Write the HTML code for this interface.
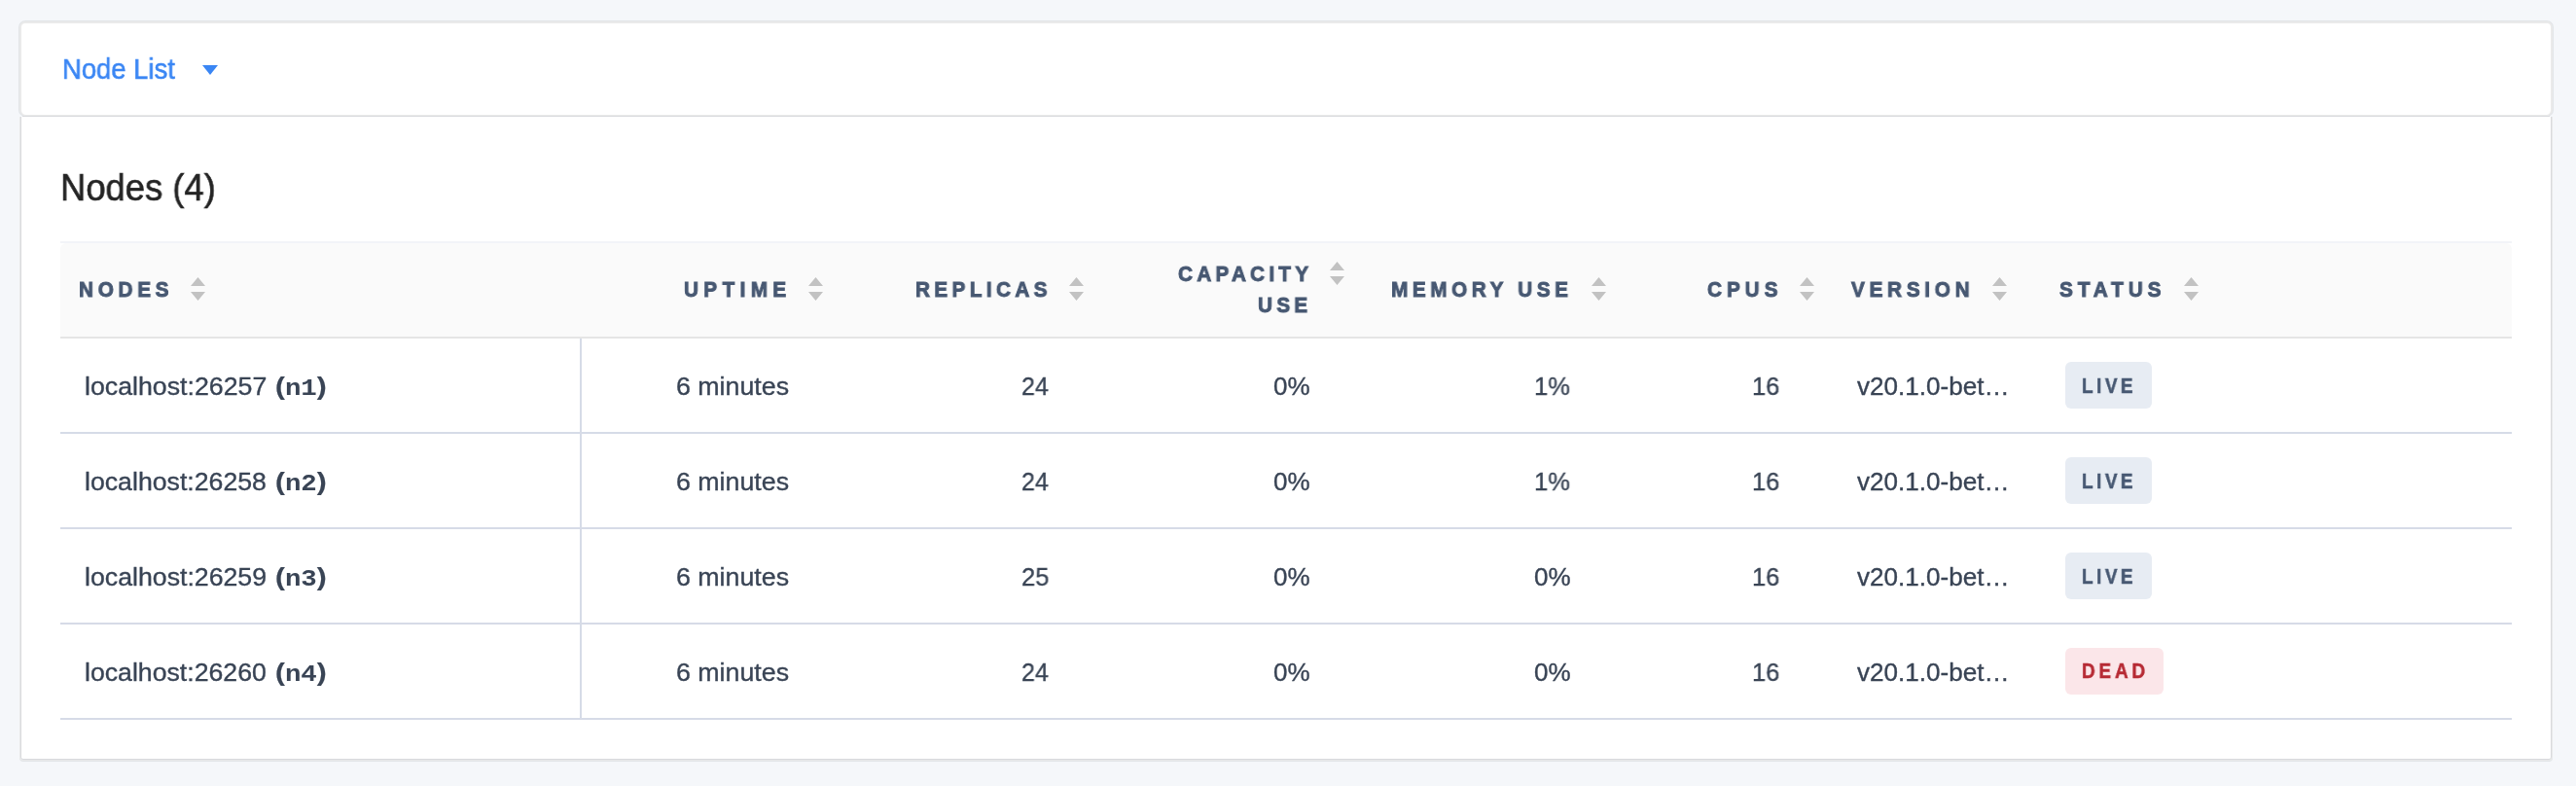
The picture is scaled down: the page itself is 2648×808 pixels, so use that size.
<!DOCTYPE html>
<html><head><meta charset="utf-8"><title>Node List</title>
<style>
html,body{margin:0;padding:0}
body{width:2648px;height:808px;overflow:hidden;background:#f5f7fa;position:relative;font-family:"Liberation Sans",sans-serif}
.card{position:absolute;box-sizing:border-box;background:#fff}
.hdr{left:20px;top:22px;width:2604px;height:97px;border:2px solid #eaeaea;border-bottom-width:1px;border-radius:6px;box-shadow:0 0 0 1px #e2e5e8}
.hdrline{position:absolute;left:23px;top:119px;width:2598px;height:1px;background:#d9dadd}
.body{left:20px;top:120px;width:2604px;height:662px;border:1px solid #e8e9e9;border-top:0;border-radius:0 0 4px 4px;box-shadow:inset 1px 0 0 #d9dadd,inset -1px 0 0 #d9dadd,inset 0 -1px 0 #d8d9dd,0 1px 0 #e2e5e8}
.thtop{position:absolute;left:62px;top:248px;width:2520px;height:2px;background:#f2f4f8}
.thbg{position:absolute;left:62px;top:250px;width:2520px;height:96px;background:#fafafa;border-radius:6px 6px 0 0}
.thbottom{position:absolute;left:62px;top:346px;width:2520px;height:2px;background:#e5e5e5}
.rb{position:absolute;left:62px;width:2520px;height:2px;background:#d6dbe7}
.vd{position:absolute;left:596px;top:348px;width:2px;height:392px;background:#d6dbe7}
.s{position:absolute;display:block}
.badge{position:absolute;height:48px;border-radius:6px}
.t{position:absolute;white-space:nowrap;transform-origin:0 0;will-change:transform;font-family:"Liberation Sans",sans-serif}
.t b{font-family:"Liberation Mono",monospace;font-weight:bold;font-size:24px;-webkit-text-stroke:0}
</style></head><body>
<div class="card hdr"></div>
<div class="hdrline"></div>
<div class="card body"></div>
<div class="thtop"></div><div class="thbg"></div><div class="thbottom"></div>
<div class="rb" style="top:444px"></div>
<div class="rb" style="top:542px"></div>
<div class="rb" style="top:640px"></div>
<div class="rb" style="top:738px"></div>
<div class="vd"></div>
<svg class="s" style="left:208px;top:67px" width="16" height="10" viewBox="0 0 16 10"><path d="M0 0 L16 0 L8 10 Z" fill="#3a86f4"/></svg>
<svg class="s" style="left:196.4px;top:285.0px" width="15.0" height="24" viewBox="0 0 15 24"><path d="M7.5 0 L15 9 L0 9 Z M0 15 L15 15 L7.5 24 Z" fill="#c2c2c2"/></svg>
<svg class="s" style="left:830.6px;top:285.0px" width="15.0" height="24" viewBox="0 0 15 24"><path d="M7.5 0 L15 9 L0 9 Z M0 15 L15 15 L7.5 24 Z" fill="#c2c2c2"/></svg>
<svg class="s" style="left:1098.6px;top:285.0px" width="15.0" height="24" viewBox="0 0 15 24"><path d="M7.5 0 L15 9 L0 9 Z M0 15 L15 15 L7.5 24 Z" fill="#c2c2c2"/></svg>
<svg class="s" style="left:1366.8px;top:269.0px" width="15.0" height="24" viewBox="0 0 15 24"><path d="M7.5 0 L15 9 L0 9 Z M0 15 L15 15 L7.5 24 Z" fill="#c2c2c2"/></svg>
<svg class="s" style="left:1635.5px;top:285.0px" width="15.0" height="24" viewBox="0 0 15 24"><path d="M7.5 0 L15 9 L0 9 Z M0 15 L15 15 L7.5 24 Z" fill="#c2c2c2"/></svg>
<svg class="s" style="left:1849.6px;top:285.0px" width="15.0" height="24" viewBox="0 0 15 24"><path d="M7.5 0 L15 9 L0 9 Z M0 15 L15 15 L7.5 24 Z" fill="#c2c2c2"/></svg>
<svg class="s" style="left:2047.5px;top:285.0px" width="15.0" height="24" viewBox="0 0 15 24"><path d="M7.5 0 L15 9 L0 9 Z M0 15 L15 15 L7.5 24 Z" fill="#c2c2c2"/></svg>
<svg class="s" style="left:2244.5px;top:285.0px" width="15.0" height="24" viewBox="0 0 15 24"><path d="M7.5 0 L15 9 L0 9 Z M0 15 L15 15 L7.5 24 Z" fill="#c2c2c2"/></svg>
<div class="badge" style="left:2123px;top:372px;width:89px;background:#e7ecf3"></div>
<div class="badge" style="left:2123px;top:470px;width:89px;background:#e7ecf3"></div>
<div class="badge" style="left:2123px;top:568px;width:89px;background:#e7ecf3"></div>
<div class="badge" style="left:2123px;top:666px;width:101px;background:#fbe6e9"></div>
<div class="t" style="left:63.90px;top:55.55px;font-size:30px;line-height:30px;font-weight:normal;letter-spacing:0.000px;color:#3a86f4;-webkit-text-stroke:0.55px currentColor;transform:scaleX(0.9138)">Node List</div>
<div class="t" style="left:62.39px;top:172.55px;font-size:39px;line-height:39px;font-weight:normal;letter-spacing:0.000px;color:#242424;-webkit-text-stroke:0.6px currentColor;transform:scaleX(0.9333)">Nodes (4)</div>
<div class="t" style="left:80.95px;top:287.01px;font-size:22.5px;line-height:22.5px;font-weight:bold;letter-spacing:5.142px;color:#475872;-webkit-text-stroke:0.95px currentColor;transform:scaleX(0.9200)">NODES</div>
<div class="t" style="left:702.70px;top:287.01px;font-size:22.5px;line-height:22.5px;font-weight:bold;letter-spacing:5.855px;color:#475872;-webkit-text-stroke:0.95px currentColor;transform:scaleX(0.9200)">UPTIME</div>
<div class="t" style="left:940.85px;top:287.01px;font-size:22.5px;line-height:22.5px;font-weight:bold;letter-spacing:4.799px;color:#475872;-webkit-text-stroke:0.95px currentColor;transform:scaleX(0.9200)">REPLICAS</div>
<div class="t" style="left:1210.65px;top:271.01px;font-size:22.5px;line-height:22.5px;font-weight:bold;letter-spacing:4.631px;color:#475872;-webkit-text-stroke:0.95px currentColor;transform:scaleX(0.9200)">CAPACITY</div>
<div class="t" style="left:1292.70px;top:303.01px;font-size:22.5px;line-height:22.5px;font-weight:bold;letter-spacing:4.662px;color:#475872;-webkit-text-stroke:0.95px currentColor;transform:scaleX(0.9200)">USE</div>
<div class="t" style="left:1429.95px;top:287.01px;font-size:22.5px;line-height:22.5px;font-weight:bold;letter-spacing:5.026px;color:#475872;-webkit-text-stroke:0.95px currentColor;transform:scaleX(0.9200)">MEMORY USE</div>
<div class="t" style="left:1755.15px;top:287.01px;font-size:22.5px;line-height:22.5px;font-weight:bold;letter-spacing:5.413px;color:#475872;-webkit-text-stroke:0.95px currentColor;transform:scaleX(0.9200)">CPUS</div>
<div class="t" style="left:1903.20px;top:287.01px;font-size:22.5px;line-height:22.5px;font-weight:bold;letter-spacing:5.146px;color:#475872;-webkit-text-stroke:0.95px currentColor;transform:scaleX(0.9200)">VERSION</div>
<div class="t" style="left:2117.47px;top:287.01px;font-size:22.5px;line-height:22.5px;font-weight:bold;letter-spacing:5.375px;color:#475872;-webkit-text-stroke:0.95px currentColor;transform:scaleX(0.9200)">STATUS</div>
<div class="t" style="left:86.58px;top:383.75px;font-size:26px;line-height:26px;font-weight:normal;letter-spacing:0.000px;color:#394455;-webkit-text-stroke:0.35px currentColor;transform:scaleX(1.0281)">localhost:26257</div>
<div class="t" style="left:282.65px;top:384.00px;font-size:26px;line-height:26px;font-weight:bold;letter-spacing:0.000px;color:#394455;-webkit-text-stroke:0.2px currentColor;transform:scaleX(1.1430)">(<b>n1</b>)</div>
<div class="t" style="left:694.52px;top:383.75px;font-size:26px;line-height:26px;font-weight:normal;letter-spacing:0.000px;color:#394455;-webkit-text-stroke:0.35px currentColor;transform:scaleX(1.0294)">6 minutes</div>
<div class="t" style="left:1049.67px;top:383.75px;font-size:26px;line-height:26px;font-weight:normal;letter-spacing:0.000px;color:#394455;-webkit-text-stroke:0.35px currentColor;transform:scaleX(0.9596)">24</div>
<div class="t" style="left:1308.72px;top:383.75px;font-size:26px;line-height:26px;font-weight:normal;letter-spacing:0.000px;color:#394455;-webkit-text-stroke:0.35px currentColor;transform:scaleX(0.9978)">0%</div>
<div class="t" style="left:1577.23px;top:383.75px;font-size:26px;line-height:26px;font-weight:normal;letter-spacing:0.000px;color:#394455;-webkit-text-stroke:0.35px currentColor;transform:scaleX(0.9811)">1%</div>
<div class="t" style="left:1800.84px;top:383.75px;font-size:26px;line-height:26px;font-weight:normal;letter-spacing:0.000px;color:#394455;-webkit-text-stroke:0.35px currentColor;transform:scaleX(0.9763)">16</div>
<div class="t" style="left:1908.55px;top:383.75px;font-size:26px;line-height:26px;font-weight:normal;letter-spacing:0.000px;color:#394455;-webkit-text-stroke:0.35px currentColor;transform:scaleX(1.0031)">v20.1.0-bet…</div>
<div class="t" style="left:2139.88px;top:385.75px;font-size:22.5px;line-height:22.5px;font-weight:bold;letter-spacing:4.193px;color:#475872;-webkit-text-stroke:0.55px currentColor;transform:scaleX(0.8400)">LIVE</div>
<div class="t" style="left:86.58px;top:481.75px;font-size:26px;line-height:26px;font-weight:normal;letter-spacing:0.000px;color:#394455;-webkit-text-stroke:0.35px currentColor;transform:scaleX(1.0265)">localhost:26258</div>
<div class="t" style="left:282.65px;top:482.00px;font-size:26px;line-height:26px;font-weight:bold;letter-spacing:0.000px;color:#394455;-webkit-text-stroke:0.2px currentColor;transform:scaleX(1.1430)">(<b>n2</b>)</div>
<div class="t" style="left:694.52px;top:481.75px;font-size:26px;line-height:26px;font-weight:normal;letter-spacing:0.000px;color:#394455;-webkit-text-stroke:0.35px currentColor;transform:scaleX(1.0294)">6 minutes</div>
<div class="t" style="left:1049.67px;top:481.75px;font-size:26px;line-height:26px;font-weight:normal;letter-spacing:0.000px;color:#394455;-webkit-text-stroke:0.35px currentColor;transform:scaleX(0.9596)">24</div>
<div class="t" style="left:1308.72px;top:481.75px;font-size:26px;line-height:26px;font-weight:normal;letter-spacing:0.000px;color:#394455;-webkit-text-stroke:0.35px currentColor;transform:scaleX(0.9978)">0%</div>
<div class="t" style="left:1577.23px;top:481.75px;font-size:26px;line-height:26px;font-weight:normal;letter-spacing:0.000px;color:#394455;-webkit-text-stroke:0.35px currentColor;transform:scaleX(0.9811)">1%</div>
<div class="t" style="left:1800.84px;top:481.75px;font-size:26px;line-height:26px;font-weight:normal;letter-spacing:0.000px;color:#394455;-webkit-text-stroke:0.35px currentColor;transform:scaleX(0.9763)">16</div>
<div class="t" style="left:1908.55px;top:481.75px;font-size:26px;line-height:26px;font-weight:normal;letter-spacing:0.000px;color:#394455;-webkit-text-stroke:0.35px currentColor;transform:scaleX(1.0031)">v20.1.0-bet…</div>
<div class="t" style="left:2139.88px;top:483.75px;font-size:22.5px;line-height:22.5px;font-weight:bold;letter-spacing:4.193px;color:#475872;-webkit-text-stroke:0.55px currentColor;transform:scaleX(0.8400)">LIVE</div>
<div class="t" style="left:86.58px;top:579.75px;font-size:26px;line-height:26px;font-weight:normal;letter-spacing:0.000px;color:#394455;-webkit-text-stroke:0.35px currentColor;transform:scaleX(1.0271)">localhost:26259</div>
<div class="t" style="left:282.65px;top:580.00px;font-size:26px;line-height:26px;font-weight:bold;letter-spacing:0.000px;color:#394455;-webkit-text-stroke:0.2px currentColor;transform:scaleX(1.1430)">(<b>n3</b>)</div>
<div class="t" style="left:694.52px;top:579.75px;font-size:26px;line-height:26px;font-weight:normal;letter-spacing:0.000px;color:#394455;-webkit-text-stroke:0.35px currentColor;transform:scaleX(1.0294)">6 minutes</div>
<div class="t" style="left:1049.64px;top:579.75px;font-size:26px;line-height:26px;font-weight:normal;letter-spacing:0.000px;color:#394455;-webkit-text-stroke:0.35px currentColor;transform:scaleX(0.9818)">25</div>
<div class="t" style="left:1308.72px;top:579.75px;font-size:26px;line-height:26px;font-weight:normal;letter-spacing:0.000px;color:#394455;-webkit-text-stroke:0.35px currentColor;transform:scaleX(0.9978)">0%</div>
<div class="t" style="left:1576.82px;top:579.75px;font-size:26px;line-height:26px;font-weight:normal;letter-spacing:0.000px;color:#394455;-webkit-text-stroke:0.35px currentColor;transform:scaleX(0.9922)">0%</div>
<div class="t" style="left:1800.84px;top:579.75px;font-size:26px;line-height:26px;font-weight:normal;letter-spacing:0.000px;color:#394455;-webkit-text-stroke:0.35px currentColor;transform:scaleX(0.9763)">16</div>
<div class="t" style="left:1908.55px;top:579.75px;font-size:26px;line-height:26px;font-weight:normal;letter-spacing:0.000px;color:#394455;-webkit-text-stroke:0.35px currentColor;transform:scaleX(1.0031)">v20.1.0-bet…</div>
<div class="t" style="left:2139.88px;top:581.75px;font-size:22.5px;line-height:22.5px;font-weight:bold;letter-spacing:4.193px;color:#475872;-webkit-text-stroke:0.55px currentColor;transform:scaleX(0.8400)">LIVE</div>
<div class="t" style="left:86.58px;top:677.75px;font-size:26px;line-height:26px;font-weight:normal;letter-spacing:0.000px;color:#394455;-webkit-text-stroke:0.35px currentColor;transform:scaleX(1.0255)">localhost:26260</div>
<div class="t" style="left:282.65px;top:678.00px;font-size:26px;line-height:26px;font-weight:bold;letter-spacing:0.000px;color:#394455;-webkit-text-stroke:0.2px currentColor;transform:scaleX(1.1430)">(<b>n4</b>)</div>
<div class="t" style="left:694.52px;top:677.75px;font-size:26px;line-height:26px;font-weight:normal;letter-spacing:0.000px;color:#394455;-webkit-text-stroke:0.35px currentColor;transform:scaleX(1.0294)">6 minutes</div>
<div class="t" style="left:1049.67px;top:677.75px;font-size:26px;line-height:26px;font-weight:normal;letter-spacing:0.000px;color:#394455;-webkit-text-stroke:0.35px currentColor;transform:scaleX(0.9596)">24</div>
<div class="t" style="left:1308.72px;top:677.75px;font-size:26px;line-height:26px;font-weight:normal;letter-spacing:0.000px;color:#394455;-webkit-text-stroke:0.35px currentColor;transform:scaleX(0.9978)">0%</div>
<div class="t" style="left:1576.82px;top:677.75px;font-size:26px;line-height:26px;font-weight:normal;letter-spacing:0.000px;color:#394455;-webkit-text-stroke:0.35px currentColor;transform:scaleX(0.9922)">0%</div>
<div class="t" style="left:1800.84px;top:677.75px;font-size:26px;line-height:26px;font-weight:normal;letter-spacing:0.000px;color:#394455;-webkit-text-stroke:0.35px currentColor;transform:scaleX(0.9763)">16</div>
<div class="t" style="left:1908.55px;top:677.75px;font-size:26px;line-height:26px;font-weight:normal;letter-spacing:0.000px;color:#394455;-webkit-text-stroke:0.35px currentColor;transform:scaleX(1.0031)">v20.1.0-bet…</div>
<div class="t" style="left:2139.68px;top:679.25px;font-size:22.5px;line-height:22.5px;font-weight:bold;letter-spacing:4.567px;color:#b62a34;-webkit-text-stroke:0.55px currentColor;transform:scaleX(0.8400)">DEAD</div>
</body></html>
